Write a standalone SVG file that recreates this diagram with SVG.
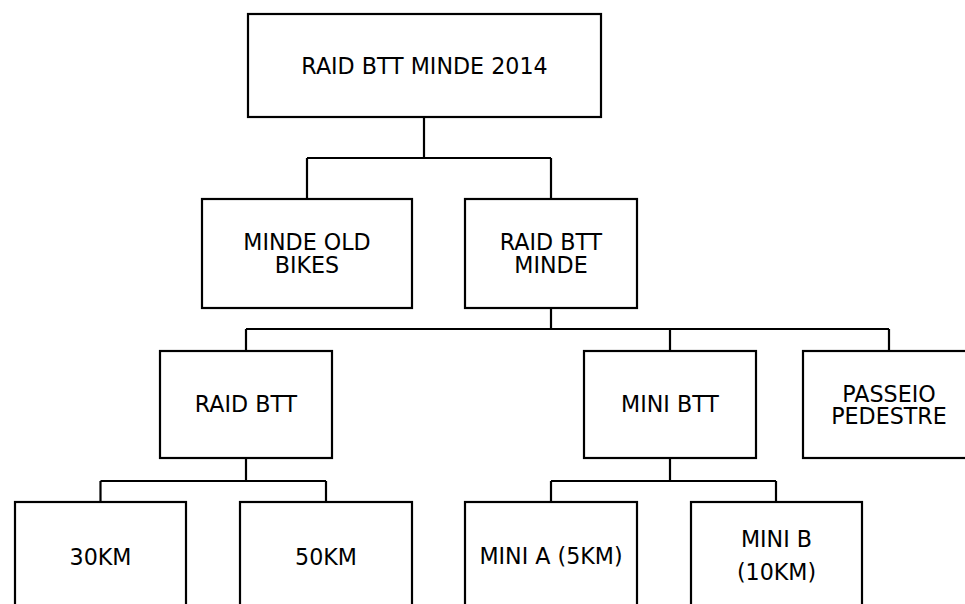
<svg xmlns="http://www.w3.org/2000/svg" width="965" height="604" viewBox="0 0 965 604">
<style>
.box{fill:#fff;stroke:#000;stroke-width:2.2}
.lbl{font-family:"DejaVu Sans",Verdana,sans-serif;font-size:22.2px;fill:#000;text-anchor:middle}
.conn{fill:none;stroke:#000;stroke-width:2.2}
</style>
<rect width="965" height="604" fill="#fff"/>
<g id="connectors" class="conn">
<path d="M424 117V158M307 158H551M307 158V199M551 158V199"/>
<path d="M551 308V329M246 329H889M246 329V351M670 329V351M889 329V351"/>
<path d="M246 458V481M100.5 481H326M100.5 481V502M326 481V502"/>
<path d="M670 458V481M551 481H776M551 481V502M776 481V502"/>
</g>
<g id="root"><rect class="box" x="248" y="14" width="353" height="103"/><text class="lbl" x="424.5" y="73.5">RAID BTT MINDE 2014</text></g>
<g id="old-bikes"><rect class="box" x="202" y="199" width="210" height="109"/><text class="lbl" x="307" y="250.2">MINDE OLD</text><text class="lbl" x="307" y="272.9">BIKES</text></g>
<g id="raid-btt-minde"><rect class="box" x="465" y="199" width="172" height="109"/><text class="lbl" x="551" y="250.2">RAID BTT</text><text class="lbl" x="551" y="272.9">MINDE</text></g>
<g id="raid-btt"><rect class="box" x="160" y="351" width="172" height="107"/><text class="lbl" x="246" y="411.9">RAID BTT</text></g>
<g id="mini-btt"><rect class="box" x="584" y="351" width="172" height="107"/><text class="lbl" x="670" y="411.9">MINI BTT</text></g>
<g id="passeio"><rect class="box" x="803" y="351" width="172" height="107"/><text class="lbl" x="889" y="401.7">PASSEIO</text><text class="lbl" x="889" y="424.2">PEDESTRE</text></g>
<g id="km30"><rect class="box" x="15" y="502" width="171" height="108"/><text class="lbl" x="100.5" y="564.5">30KM</text></g>
<g id="km50"><rect class="box" x="240" y="502" width="172" height="108"/><text class="lbl" x="326" y="564.5">50KM</text></g>
<g id="mini-a"><rect class="box" x="465" y="502" width="172" height="108"/><text class="lbl" x="551" y="563.5">MINI A (5KM)</text></g>
<g id="mini-b"><rect class="box" x="691" y="502" width="171" height="108"/><text class="lbl" x="776.5" y="546.9">MINI B</text><text class="lbl" x="776.5" y="580.2">(10KM)</text></g>
</svg>
